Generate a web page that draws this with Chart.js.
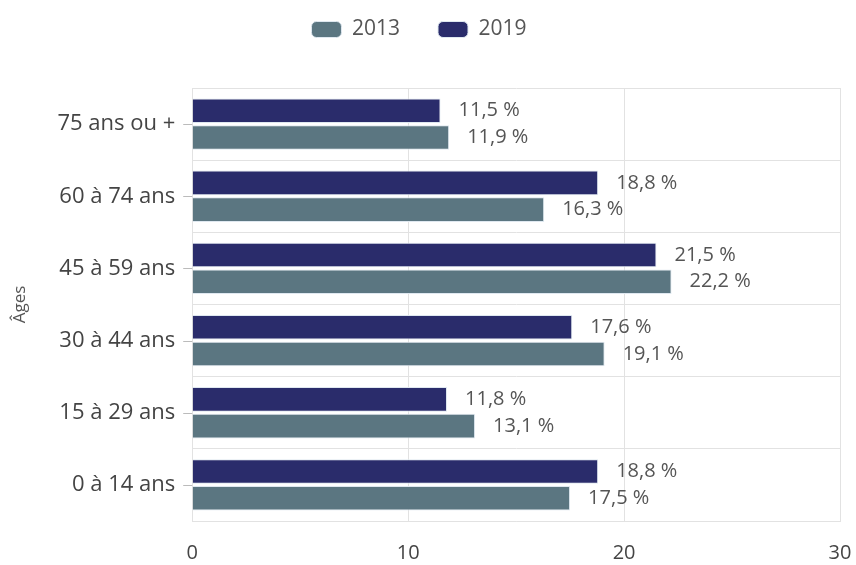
<!DOCTYPE html>
<html>
<head>
<meta charset="utf-8">
<script src="https://cdn.jsdelivr.net/npm/chart.js@4/dist/chart.umd.min.js"></script>
<style>
  html, body { margin: 0; padding: 0; background: #fff; }
  #wrap { width: 856px; height: 565px; }
</style>
</head>
<body>
<div id="wrap"><canvas id="ages"></canvas></div>
<script>
// categories, top to bottom
const ageGroups = ['75 ans ou +', '60 à 74 ans', '45 à 59 ans', '30 à 44 ans', '15 à 29 ans', '0 à 14 ans'];
const values2019 = [11.5, 18.8, 21.5, 17.6, 11.8, 18.8];
const values2013 = [11.9, 16.3, 22.2, 19.1, 13.1, 17.5];
const xTicks = [0, 10, 20, 30];

const fontName = '"Open Sans", "Noto Sans", sans-serif';

// value labels to the right of each bar
const barLabels = {
    id: 'barLabels',
    afterDatasetsDraw(chart) {
        const ctx = chart.ctx;
        ctx.save();
        ctx.font = '20px ' + fontName;
        ctx.fillStyle = '#555';
        ctx.textBaseline = 'middle';
        ctx.textAlign = 'left';
        chart.data.datasets.forEach((ds, i) => {
            chart.getDatasetMeta(i).data.forEach((bar, j) => {
                const txt = ds.data[j].toFixed(1).replace('.', ',') + ' %';
                ctx.fillText(txt, bar.x + 18, bar.y);
            });
        });
        ctx.restore();
    }
};

// small tick marks at category centres
const catTicks = {
    id: 'catTicks',
    afterDraw(chart) {
        const y = chart.scales.y, ctx = chart.ctx;
        ctx.save();
        ctx.strokeStyle = '#bbb';
        ctx.lineWidth = 1;
        y.ticks.forEach((t, i) => {
            const py = Math.round(y.getPixelForTick(i)) + 0.5;
            ctx.beginPath();
            ctx.moveTo(y.right - 9, py);
            ctx.lineTo(y.right, py);
            ctx.stroke();
        });
        ctx.restore();
    }
};

// extra room under the legend, and nudge it a bit to the left
const legendGap = {
    id: 'legendGap',
    beforeInit(chart) {
        const fit = chart.legend.fit;
        chart.legend.fit = function () {
            fit.bind(chart.legend)();
            this.height += 38;
        };
    },
    afterLayout(chart) {
        chart.legend.right -= 28;
    }
};

new Chart(document.getElementById('ages'), {
    type: 'bar',
    data: {
        labels: ageGroups,
        datasets: [
            {
                label: '2019',
                data: values2019,
                backgroundColor: '#2a2c6b',
                borderColor: '#dfe8f0',
                borderWidth: 1,
                categoryPercentage: 0.74,
                barPercentage: 0.92
            },
            {
                label: '2013',
                data: values2013,
                backgroundColor: '#5b7681',
                borderColor: '#dfe8f0',
                borderWidth: 1,
                categoryPercentage: 0.74,
                barPercentage: 0.92
            }
        ]
    },
    options: {
        indexAxis: 'y',
        responsive: true,
        maintainAspectRatio: false,
        animation: false,
        layout: { padding: { left: 10, right: 0, top: -19, bottom: 0 } },
        plugins: {
            legend: {
                position: 'top',
                reverse: true,
                labels: {
                    boxWidth: 30,
                    boxHeight: 16,
                    useBorderRadius: true,
                    borderRadius: 5,
                    padding: 38,
                    color: '#555',
                    font: { family: fontName, size: 21 }
                }
            },
            tooltip: { enabled: false }
        },
        scales: {
            x: {
                min: 0,
                max: 30,
                afterBuildTicks(scale) {
                    scale.ticks = xTicks.map(v => ({ value: v }));
                },
                afterFit(scale) {
                    scale.paddingRight = 16;
                    scale.height -= 20;
                },
                grid: { color: '#e2e2e2', drawTicks: false },
                border: { color: '#e2e2e2' },
                ticks: {
                    padding: 20,
                    color: '#444',
                    font: { family: fontName, size: 20 }
                }
            },
            y: {
                afterFit(scale) {
                    scale.paddingTop = 0;
                    scale.paddingBottom = 0;
                },
                grid: { color: '#e2e2e2', drawTicks: false, offset: true },
                border: { color: '#e2e2e2' },
                ticks: {
                    padding: 17,
                    color: '#444',
                    font: { family: fontName, size: 22 }
                },
                title: {
                    display: true,
                    text: 'Âges',
                    color: '#555',
                    font: { family: fontName, size: 17 },
                    padding: { top: 0, bottom: 10 }
                }
            }
        }
    },
    plugins: [barLabels, catTicks, legendGap]
});
</script>
</body>
</html>
